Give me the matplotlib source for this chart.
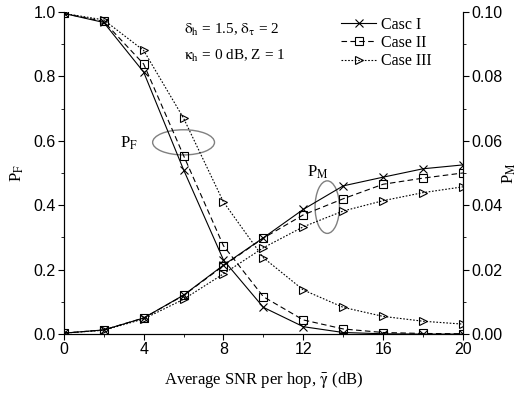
import matplotlib
matplotlib.use("Agg")
import matplotlib.pyplot as plt
from matplotlib.patches import Ellipse
from matplotlib.ticker import MultipleLocator

plt.rcParams['font.family'] = 'Liberation Sans'
plt.rcParams['mathtext.fontset'] = 'stix'
SERIF = 'Liberation Serif'

snr = [0, 2, 4, 6, 8, 10, 12, 14, 16, 18, 20]

# false alarm probability (left axis)
pf_case1 = [0.995, 0.967, 0.813, 0.51, 0.23, 0.083, 0.023, 0.005, 0.001, 0.0, 0.0]
pf_case2 = [0.995, 0.970, 0.838, 0.554, 0.274, 0.116, 0.044, 0.016, 0.005, 0.002, 0.001]
pf_case3 = [0.995, 0.975, 0.88, 0.67, 0.41, 0.237, 0.137, 0.083, 0.055, 0.040, 0.031]

# miss probability (right axis, 0..0.1)
pm_case1 = [0.0003, 0.0013, 0.005, 0.0121, 0.0214, 0.0299, 0.0387, 0.046, 0.0487, 0.0513, 0.0525]
pm_case2 = [0.0003, 0.0013, 0.005, 0.012, 0.0212, 0.0298, 0.037, 0.042, 0.0465, 0.0484, 0.050]
pm_case3 = [0.0003, 0.0012, 0.0047, 0.0108, 0.0187, 0.0268, 0.0333, 0.0382, 0.0414, 0.0439, 0.0457]

fig = plt.figure(figsize=(5.19, 3.94), dpi=100)
ax = fig.add_axes([0.123, 0.152, 0.769, 0.818])
ax2 = ax.twinx()

lw = 0.8
ms = 6
styles = [
    ('-', 'x', 'Casc I'),
    ((0, (5, 3)), 's', 'Case II'),
    ((0, (1.5, 1.5)), '>', 'Case III'),
]

handles = []
for (ls, mk, lab), pf in zip(styles, [pf_case1, pf_case2, pf_case3]):
    h, = ax.plot(snr, pf, color='black', linestyle=ls, linewidth=lw, marker=mk,
                 markersize=ms, markerfacecolor='none', markeredgecolor='black',
                 markeredgewidth=0.8, label=lab)
    handles.append(h)
for (ls, mk, lab), pm in zip(styles, [pm_case1, pm_case2, pm_case3]):
    ax2.plot(snr, pm, color='black', linestyle=ls, linewidth=lw, marker=mk,
             markersize=ms, markerfacecolor='none', markeredgecolor='black',
             markeredgewidth=0.8)

ax.set_xlim(0, 20)
ax.set_ylim(0, 1.0)
ax2.set_ylim(0, 0.10)
ax.xaxis.set_major_locator(MultipleLocator(4))
ax.xaxis.set_minor_locator(MultipleLocator(2))
ax.yaxis.set_major_locator(MultipleLocator(0.2))
ax.yaxis.set_minor_locator(MultipleLocator(0.1))
ax2.yaxis.set_major_locator(MultipleLocator(0.02))
ax2.yaxis.set_minor_locator(MultipleLocator(0.01))
ax.yaxis.set_major_formatter('{x:.1f}')
ax2.yaxis.set_major_formatter('{x:.2f}')
ax.xaxis.set_major_formatter('{x:.0f}')

for a in (ax, ax2):
    a.spines['top'].set_visible(False)
    a.tick_params(which='both', direction='out', labelsize=11.5)
    a.tick_params(which='major', length=4, pad=2)
    a.tick_params(which='minor', length=2.5)

ax.set_xlabel('Average SNR per hop, $\\bar{\\mathrm{\\gamma}}$ (dB)', fontsize=12,
              fontfamily=SERIF, labelpad=9)
ax.set_ylabel('P$_{\\mathrm{F}}$', fontsize=12, fontfamily=SERIF)
ax2.set_ylabel('P$_{\\mathrm{M}}$', fontsize=12, fontfamily=SERIF)
ax.yaxis.set_label_coords(-0.095, 0.5)
ax2.yaxis.set_label_coords(1.095, 0.5)

ax.text(6.0, 0.93, '$\\mathrm{\\delta_h}$ = 1.5, $\\mathrm{\\delta_\\tau}$ = 2',
        fontsize=11, fontfamily=SERIF)
ax.text(6.0, 0.85, '$\\mathrm{\\kappa_h}$ = 0 dB, Z = 1', fontsize=11, fontfamily=SERIF)

ax.add_patch(Ellipse((6.0, 0.595), 3.1, 0.078, fill=False, edgecolor='gray', linewidth=1.0))
ax.text(2.8, 0.58, 'P$_{\\mathrm{F}}$', fontsize=12, fontfamily=SERIF)
ax.add_patch(Ellipse((13.2, 0.394), 1.22, 0.163, fill=False, edgecolor='gray', linewidth=1.0))
ax.text(12.2, 0.49, 'P$_{\\mathrm{M}}$', fontsize=12, fontfamily=SERIF)

ax.legend(handles=handles, loc='upper right', bbox_to_anchor=(0.95, 1.02), frameon=False,
          prop={'family': SERIF, 'size': 11.5}, handlelength=2.2, labelspacing=0.15,
          borderpad=0.2, handletextpad=0.3)

fig.savefig('out.png', dpi=100)
